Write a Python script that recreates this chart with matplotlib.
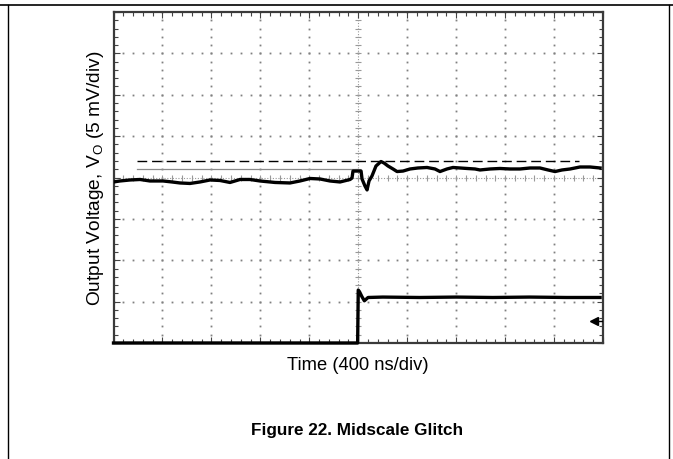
import matplotlib
matplotlib.use('Agg')
import matplotlib.pyplot as plt
import numpy as np
from matplotlib.lines import Line2D
from matplotlib.ticker import MultipleLocator

plt.rcParams['font.family'] = ['Liberation Sans', 'DejaVu Sans']

# ---- data: time in microseconds (400 ns/div), voltage in mV (5 mV/div) ----
t_out = [0.000, 0.053, 0.135, 0.217, 0.298, 0.405, 0.478, 0.543, 0.625, 0.707,
         0.789, 0.870, 0.952, 1.034, 1.115, 1.197, 1.320, 1.442, 1.524, 1.606,
         1.688, 1.769, 1.851, 1.933, 1.949, 1.957, 2.023, 2.031, 2.055, 2.072,
         2.088, 2.112, 2.145, 2.186, 2.211, 2.243, 2.284, 2.317, 2.366, 2.423,
         2.488, 2.562, 2.627, 2.668, 2.725, 2.774, 2.832, 2.889, 2.954, 2.995,
         3.077, 3.158, 3.240, 3.322, 3.404, 3.485, 3.551, 3.608, 3.665, 3.731,
         3.812, 3.894, 3.976]
v_out = [-0.54, -0.42, -0.30, -0.24, -0.42, -0.42, -0.54, -0.66, -0.72, -0.54,
         -0.30, -0.36, -0.60, -0.24, -0.24, -0.42, -0.60, -0.66, -0.42, -0.12,
         -0.18, -0.42, -0.54, -0.24, -0.06, 0.78, 0.78, -0.18, -1.03, -1.50,
         -0.42, 0.18, 1.39, 1.93, 1.75, 1.39, 1.03, 0.72, 0.78, 1.03,
         1.15, 1.21, 1.03, 0.72, 1.03, 1.21, 1.15, 1.09, 1.03, 0.91,
         1.03, 1.09, 1.03, 1.03, 1.15, 1.15, 0.91, 0.72, 0.91, 1.03,
         1.27, 1.27, 1.15]

t_ctl = [0.000, 1.995, 2.000, 2.010, 2.030, 2.050, 2.080, 2.200, 2.500,
         2.800, 3.100, 3.400, 3.700, 3.976]
v_ctl = [-20.0, -20.0, -13.6, -13.8, -14.4, -14.9, -14.5, -14.45, -14.5,
         -14.45, -14.5, -14.45, -14.5, -14.5]

dash_t = [0.19, 3.80]
dash_v = [2.05, 2.05]
ref_t = [0.19, 1.99]
ref_v = [1.03, 1.03]
gnd_t = [3.93]
gnd_v = [-17.4]

W, H = 673, 459
fig = plt.figure(figsize=(W / 100, H / 100), dpi=100)
ax = fig.add_axes([113.5 / W, 1 - 343 / H, 489.5 / W, 331 / H])
ax.set_xlim(0, 4)
ax.set_ylim(-20, 20)

# graticule dots
xmaj = np.arange(0.4, 3.99, 0.4)
ymaj = np.arange(-15, 16, 5)
xmin = np.arange(0, 4.001, 0.08)
ymin = np.arange(-20, 20.01, 1.0)
dot_kw = dict(ls='none', marker='s', ms=1.3, mew=0, color='#808080', zorder=1)
for xv in xmaj:
    if abs(xv - 2.0) > 1e-6:
        ax.plot(np.full_like(ymin, xv), ymin, **dot_kw)
for yv in ymaj:
    if abs(yv) > 1e-6:
        ax.plot(xmin, np.full_like(xmin, yv), **dot_kw)
# center cross
ax.axhline(0, ls=(0, (1, 1.5)), lw=0.8, color='#999999', zorder=1)
ax.axvline(2.0, ls=(0, (1, 1.5)), lw=0.8, color='#999999', zorder=1)
ax.plot(xmin, np.zeros_like(xmin), ls='none', marker='|', ms=4, mew=0.8,
        color='#999999', zorder=1)
ax.plot(np.full_like(ymin, 2.0), ymin, ls='none', marker='_', ms=4, mew=0.8,
        color='#999999', zorder=1)

# reference lines
ax.plot(dash_t, dash_v, color='black', lw=1.0, ls=(0, (7, 3.5)), zorder=2)
ax.plot(ref_t, ref_v, color='#8a8a8a', lw=0.9, zorder=2)

# traces
ax.plot(t_out, v_out, color='black', lw=2.4, solid_joinstyle='round', zorder=3)
ax.plot(t_ctl, v_ctl, color='black', lw=2.4, clip_on=False, zorder=3)
ax.plot(gnd_t, gnd_v, ls='none', marker='<', ms=5.5, color='black', zorder=3)
ax.plot([3.93, 4.0], [-17.4, -17.4], color='black', lw=1.0, zorder=3)

# frame and ticks
ax.xaxis.set_major_locator(MultipleLocator(0.4))
ax.xaxis.set_minor_locator(MultipleLocator(0.08))
ax.yaxis.set_major_locator(MultipleLocator(5))
ax.yaxis.set_minor_locator(MultipleLocator(1))
ax.tick_params(which='both', direction='in', top=True, right=True,
               bottom=True, left=True, labelbottom=False, labelleft=False,
               color='#444444', width=0.8)
ax.tick_params(which='major', length=4)
ax.tick_params(which='minor', length=3)
for s in ax.spines.values():
    s.set_linewidth(1.6)
    s.set_color('#3a3a3a')

# texts
fig.text(95 / W, 1 - 178 / H, 'Output Voltage, V$_\\mathregular{O}$ (5 mV/div)',
         rotation=90, ha='center', va='center', fontsize=13.8)
fig.text(358 / W, 1 - 366 / H, 'Time (400 ns/div)', ha='center', va='center',
         fontsize=13.2)
fig.text(357 / W, 1 - 431 / H, 'Figure 22. Midscale Glitch', ha='center',
         va='center', fontsize=12.3, fontweight='bold')

# page border lines
fig.add_artist(Line2D([0, 1], [1 - 4.5 / H] * 2, transform=fig.transFigure,
                      color='black', lw=1.2))
fig.add_artist(Line2D([7.5 / W] * 2, [0, 1 - 4.5 / H], transform=fig.transFigure,
                      color='black', lw=1.0))
fig.add_artist(Line2D([669 / W] * 2, [0, 1 - 4.5 / H], transform=fig.transFigure,
                      color='black', lw=1.0))

fig.savefig('out.png', dpi=100)
